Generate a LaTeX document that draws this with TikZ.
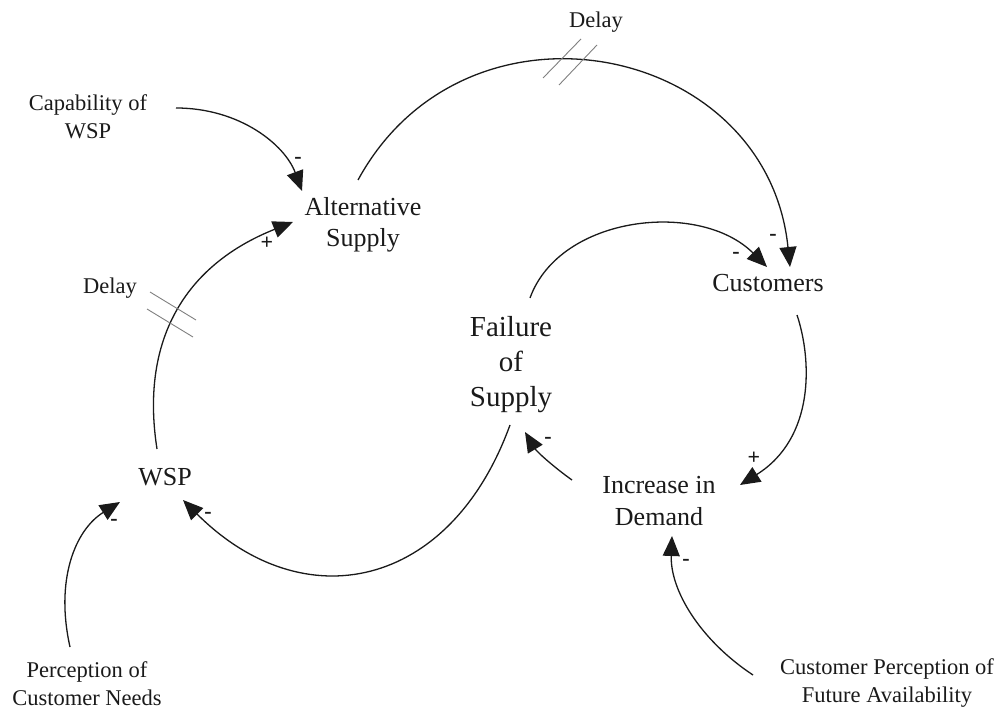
\documentclass[tikz,border=0pt]{standalone}
\usepackage{fontspec}
\setmainfont{Liberation Serif}
\usetikzlibrary{arrows.meta,calc}
\definecolor{ink}{HTML}{1A1A1A}
\definecolor{hatch}{HTML}{808080}
\tikzset{
  var/.style={align=center, text=ink, font=\fontsize{26}{31.5}\selectfont, inner sep=0pt},
  ext/.style={align=center, text=ink, font=\fontsize{22.5}{28}\selectfont, inner sep=0pt},
  big/.style={align=center, text=ink, font=\fontsize{29}{35}\selectfont, inner sep=0pt},
  link/.style={draw=ink, line width=1.3pt, -{Triangle[length=20pt,width=17pt]}},
  sign/.style={text=ink, font=\fontsize{22}{22}\selectfont\bfseries, inner sep=0pt},
  delaymark/.style={draw=hatch, line width=0.9pt},
}
\begin{document}
\begin{tikzpicture}[x=1pt, y=-1pt]
\useasboundingbox[fill=white] (0,0) rectangle (1005,711);

% variables
\node[ext] (cap)  at (88,117)  {Capability of\\WSP};
\node[var] (alt)  at (363,225) {Alternative\\Supply};
\node[var] (cust) at (768,283) {Customers};
\node[big] (fail) at (511,365) {Failure\\of\\Supply};
\node[var] (wsp)  at (165,477) {WSP};
\node[var] (inc)  at (659,501) {Increase in\\Demand};
\node[ext] (pcn)  at (87,684)  {Perception of\\Customer Needs};
\node[ext] (cpfa) at (887,683) {Customer Perception of\\Future Availability};
\node[ext] (dtop)  at (596,22)  {Delay};
\node[ext] (dleft) at (110,288) {Delay};

% causal links
\draw[link] ($(cap)+(88,-9)$) .. controls (240,108) and (285,145) .. ($(alt)+(-61,-34)$);
\draw[link] ($(wsp)+(-8,-28)$) .. controls (140,340) and (185,265) .. ($(alt)+(-70,-3)$);
\draw[link] ($(alt)+(-5,-45)$) .. controls (466,-18) and (767,42) .. ($(cust)+(22,-16)$);
\draw[link] ($(fail)+(19,-67)$) .. controls (560,215) and (700,200) .. ($(cust)+(-1,-16)$);
\draw[link] ($(cust)+(29,32)$) .. controls (812,360) and (815,438) .. ($(inc)+(81,-16)$);
\draw[link] ($(inc)+(-87,-21)$) .. controls (555,468) and (537,452) .. ($(fail)+(14,67)$);
\draw[link] ($(fail)+(-1,60)$) .. controls (450,590) and (303,620) .. ($(wsp)+(18,23)$);
\draw[link] ($(pcn)+(-17,-37)$) .. controls (55,580) and (75,530) .. ($(wsp)+(-45,25)$);
\draw[link] ($(cpfa)+(-134,-8)$) .. controls (700,640) and (670,590) .. ($(inc)+(13,35)$);

% delay marks
\draw[delaymark] (543,78) -- (581,39);
\draw[delaymark] (559,85) -- (597,45);
\draw[delaymark] (150,292) -- (196,320);
\draw[delaymark] (147,309) -- (193,337);

% polarities
\node[sign] (p1) at (298,160) {-};
\node[sign] (p2) at (267,243) {+};
\node[sign] (p3) at (773,237) {-};
\node[sign] (p4) at (736,255) {-};
\node[sign] (p5) at (754,458) {+};
\node[sign] (p6) at (548,440) {-};
\node[sign] (p7) at (208,515) {-};
\node[sign] (p8) at (114,522) {-};
\node[sign] (p9) at (686,562) {-};
\end{tikzpicture}
\end{document}
